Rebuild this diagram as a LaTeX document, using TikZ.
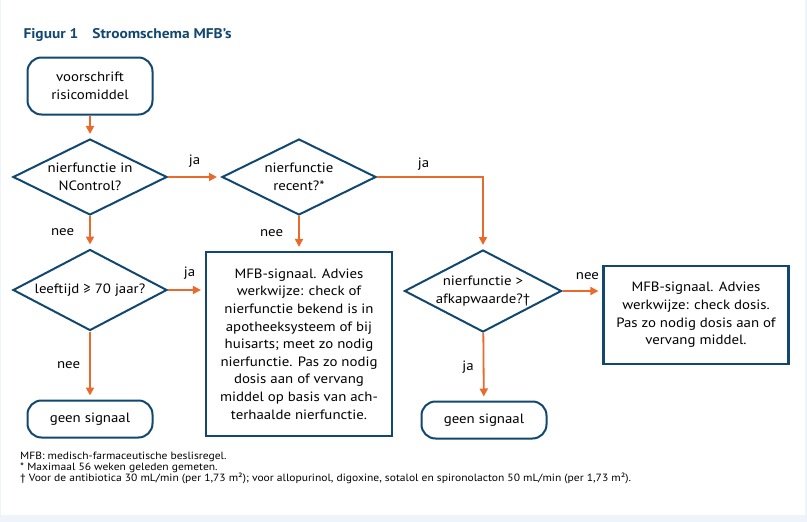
\documentclass[tikz,border=0pt]{standalone}
\usepackage{fontspec}
\setmainfont{PT Sans}[FakeStretch=1.1]
\usepackage{tikz}
\usetikzlibrary{positioning,arrows.meta,shapes.geometric}

\definecolor{mfbblue}{RGB}{18,72,112}
\definecolor{mfborange}{RGB}{232,106,44}
\definecolor{mfbback}{RGB}{238,244,250}

\begin{document}
\begin{tikzpicture}[
  x=1pt, y=-1pt,
  font=\fontsize{13.5}{17.6}\selectfont,
  term/.style={draw=mfbblue, line width=2pt, rounded corners=14pt, align=center, minimum width=125pt, inner sep=2pt},
  dec/.style={draw=mfbblue, line width=2pt, diamond, aspect=2.1, inner sep=0pt, align=center, minimum width=154pt, minimum height=76pt},
  box/.style={draw=mfbblue, line width=2.2pt, align=center, inner sep=2pt},
  arr/.style={-{Triangle[length=8pt, width=8pt]}, draw=mfborange, line width=1.8pt, shorten >=4pt},
  lbl/.style={font=\fontsize{13.5}{15}\selectfont, inner sep=1pt}]
\useasboundingbox (0,0) rectangle (807,522);
\fill[mfbback] (0,0) rectangle (807,522);
\fill[white] (1,0) rectangle (805,515);
% titel
\node[anchor=base west, text=mfbblue, font=\fontsize{14}{16}\selectfont\bfseries] (title) at (20,38) {Figuur 1\hspace{14pt}Stroomschema MFB’s};
% knopen
\node[term, minimum height=57pt] (start) at (90,86) {voorschrift\\risicomiddel};
\node[dec] (ncontrol) at (90,177) {nierfunctie in\\NControl?};
\node[dec] (recent) at (299,177) {nierfunctie\\recent?*};
\node[dec, minimum height=81pt] (leeftijd) at (90,290) {leeftijd ≥ 70 jaar?};
\node[box, minimum width=186pt, minimum height=184pt] (check) at (299,344) {MFB-signaal. Advies\\werkwijze: check of\\nierfunctie bekend is in\\apotheeksysteem of bij\\huisarts; meet zo nodig\\nierfunctie. Pas zo nodig\\dosis aan of vervang\\middel op basis van ach-\\terhaalde nierfunctie.};
\node[dec, minimum height=82pt] (afkap) at (483,291) {nierfunctie >\\afkapwaarde?†};
\node[box, minimum width=185pt, minimum height=98pt] (dosis) at (696,315) {MFB-signaal. Advies\\werkwijze: check dosis.\\Pas zo nodig dosis aan of\\vervang middel.};
\node[term, minimum height=37pt] (geen1) at (90,419) {geen signaal};
\node[term, minimum height=37pt] (geen2) at (484,420) {geen signaal};
% pijlen
\draw[arr] (start) -- (ncontrol);
\draw[arr] (ncontrol) -- node[lbl, above=8pt] {ja} (recent);
\draw[arr] (ncontrol) -- node[lbl, left=14pt] {nee} (leeftijd);
\draw[arr] (recent.east) -| node[lbl, pos=0.22, above=5pt] {ja} (afkap.north);
\draw[arr] (recent) -- node[lbl, left=14pt] {nee} (check.north);
\draw[arr] (leeftijd) -- node[lbl, above=9pt, xshift=3pt] {ja} (check.west |- leeftijd);
\draw[arr] (leeftijd) -- node[lbl, left=8pt] {nee} (geen1);
\draw[arr] (afkap) -- node[lbl, above=9pt, xshift=5pt] {nee} (dosis.west |- afkap);
\draw[arr] (afkap) -- node[lbl, left=8pt] {ja} (geen2);
% voetnoten
\node[anchor=north west, align=left, inner sep=0pt, font=\fontsize{10.5}{10.6}\selectfont] (noten) at (20,452) {MFB: medisch-farmaceutische beslisregel.\\* Maximaal 56 weken geleden gemeten.\\† Voor de antibiotica 30 mL/min (per 1,73 m²); voor allopurinol, digoxine, sotalol en spironolacton 50 mL/min (per 1,73 m²).};
\end{tikzpicture}
\end{document}
